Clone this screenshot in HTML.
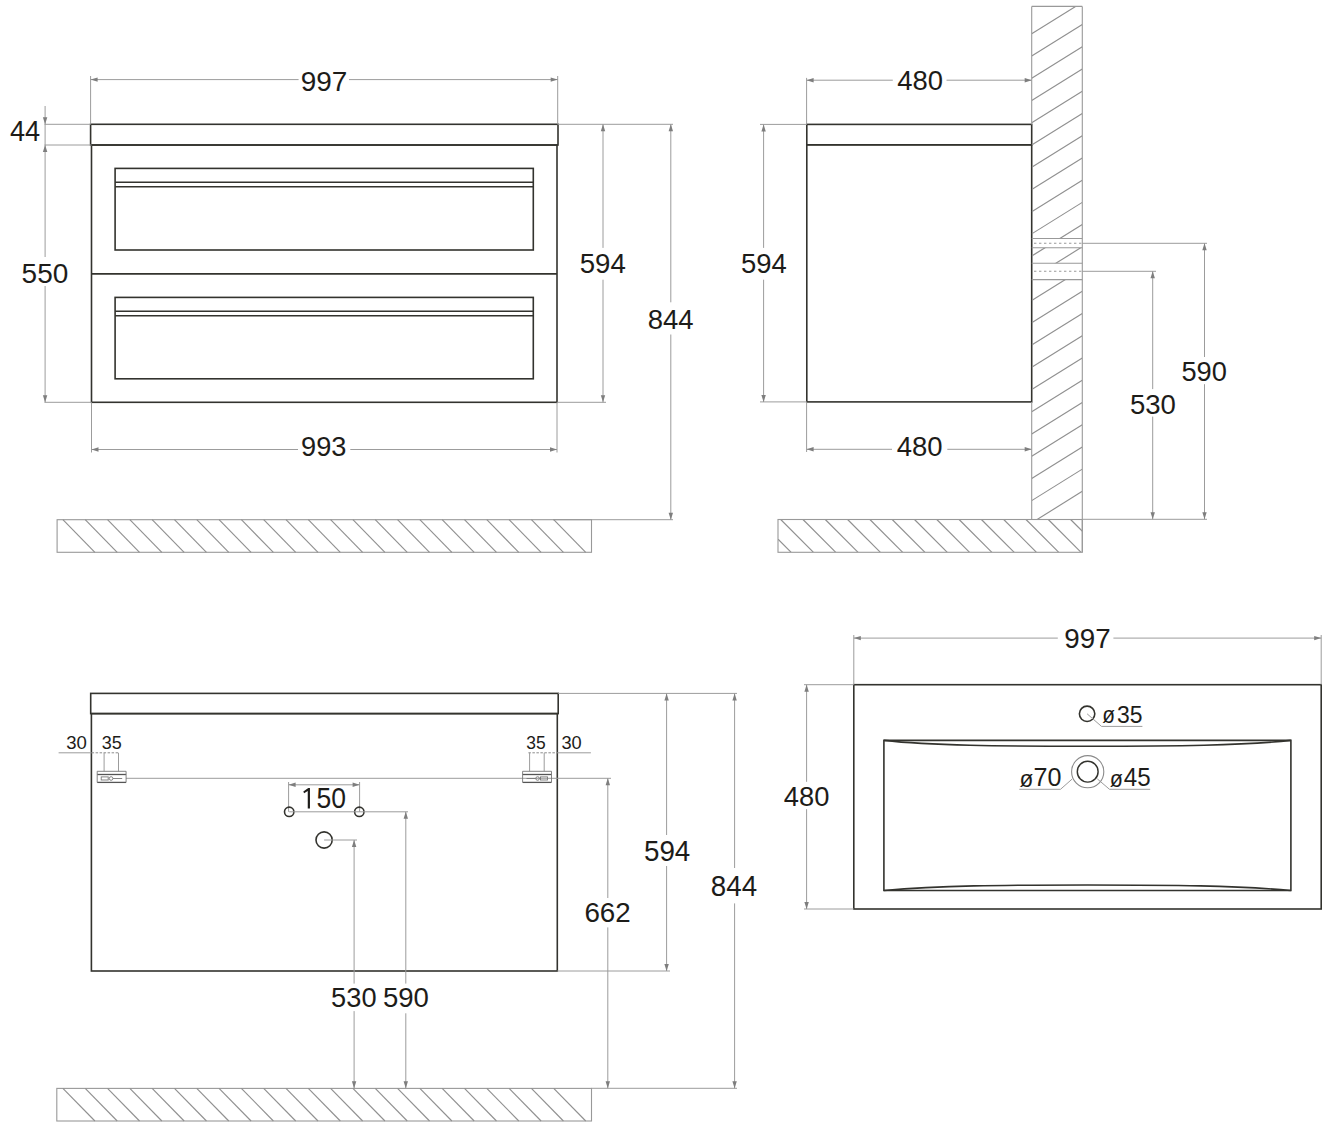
<!DOCTYPE html>
<html><head><meta charset="utf-8"><title>Cabinet drawing</title>
<style>
html,body{margin:0;padding:0;background:#fff;}
body{width:1331px;height:1130px;overflow:hidden;}
svg{display:block;}
text{font-family:"Liberation Sans",sans-serif;fill:#1d1c19;}
.o{fill:none;stroke:#33332e;stroke-width:1.6;}
.o2{fill:none;stroke:#33332e;stroke-width:1.45;}
.d{fill:none;stroke:#9c9c9c;stroke-width:1;}
.a{fill:#7e7e7e;stroke:none;}
.h{fill:none;stroke:#999999;stroke-width:1.1;}
.hd{fill:none;stroke:#909090;stroke-width:1.15;}
.b{fill:none;stroke:#777;stroke-width:0.9;}
.b2{fill:none;stroke:#555;stroke-width:1.3;}
.dt{fill:none;stroke:#8c8c8c;stroke-width:1;stroke-dasharray:2.5 1.5;}
</style></head>
<body><svg width="1331" height="1130" viewBox="0 0 1331 1130">
<rect x="0" y="0" width="1331" height="1130" fill="#fff"/>
<rect class="o" x="90.6" y="124.3" width="467.40" height="20.70"/>
<rect class="o" x="91.5" y="145.0" width="465.50" height="257.30"/>
<line class="o" x1="91.5" y1="273.9" x2="557.0" y2="273.9"/>
<rect class="o" x="115.1" y="168.4" width="418.20" height="81.60"/>
<line class="o" x1="115.1" y1="182.3" x2="533.3" y2="182.3"/>
<line class="o" x1="115.1" y1="186.8" x2="533.3" y2="186.8"/>
<rect class="o" x="115.1" y="297.4" width="418.20" height="81.40"/>
<line class="o" x1="115.1" y1="311.2" x2="533.3" y2="311.2"/>
<line class="o" x1="115.1" y1="315.8" x2="533.3" y2="315.8"/>
<line class="d" x1="90.6" y1="76" x2="90.6" y2="124.3"/>
<line class="d" x1="557.7" y1="76" x2="557.7" y2="124.3"/>
<line class="d" x1="90.6" y1="79.6" x2="298.6" y2="79.6"/>
<line class="d" x1="349" y1="79.6" x2="557.7" y2="79.6"/>
<polygon class="a" points="90.6,79.6 97.6,77.39999999999999 97.6,81.8"/>
<polygon class="a" points="557.7,79.6 550.7,77.39999999999999 550.7,81.8"/>
<text transform="matrix(27.9388 0 0 28.2483 300.690 90.524)" font-size="1">997</text>
<line class="d" x1="44.5" y1="124.3" x2="90.6" y2="124.3"/>
<line class="d" x1="44.5" y1="145.0" x2="91.5" y2="145.0"/>
<line class="d" x1="44.5" y1="402.3" x2="91.5" y2="402.3"/>
<line class="d" x1="45.1" y1="106" x2="45.1" y2="145.0"/>
<polygon class="a" points="45.1,124.3 42.9,117.3 47.300000000000004,117.3"/>
<line class="d" x1="45.1" y1="145.0" x2="45.1" y2="257"/>
<line class="d" x1="45.1" y1="286" x2="45.1" y2="402.3"/>
<polygon class="a" points="45.1,145.0 42.9,152.0 47.300000000000004,152.0"/>
<polygon class="a" points="45.1,402.3 42.9,395.3 47.300000000000004,395.3"/>
<text transform="matrix(27.1683 0 0 29.0703 9.977 141.200)" font-size="1">44</text>
<text transform="matrix(27.9988 0 0 28.5308 21.579 282.721)" font-size="1">550</text>
<line class="d" x1="557.7" y1="124.3" x2="673" y2="124.3"/>
<line class="d" x1="557" y1="402.3" x2="606" y2="402.3"/>
<line class="d" x1="553" y1="519.7" x2="673" y2="519.7"/>
<line class="d" x1="603" y1="124.3" x2="603" y2="247.9"/>
<line class="d" x1="603" y1="279.7" x2="603" y2="402.3"/>
<polygon class="a" points="603,124.3 600.8,131.3 605.2,131.3"/>
<polygon class="a" points="603,402.3 600.8,395.3 605.2,395.3"/>
<line class="d" x1="670.8" y1="124.3" x2="670.8" y2="302.3"/>
<line class="d" x1="670.8" y1="334.5" x2="670.8" y2="519.7"/>
<polygon class="a" points="670.8,124.3 668.5999999999999,131.3 673.0,131.3"/>
<polygon class="a" points="670.8,519.7 668.5999999999999,512.7 673.0,512.7"/>
<text transform="matrix(27.6402 0 0 28.2483 579.693 272.824)" font-size="1">594</text>
<text transform="matrix(27.5114 0 0 28.1070 647.704 328.526)" font-size="1">844</text>
<line class="d" x1="91.5" y1="402.3" x2="91.5" y2="452.5"/>
<line class="d" x1="557" y1="402.3" x2="557" y2="452.5"/>
<line class="d" x1="91.5" y1="449.5" x2="298" y2="449.5"/>
<line class="d" x1="350.3" y1="449.5" x2="557" y2="449.5"/>
<polygon class="a" points="91.5,449.5 98.5,447.3 98.5,451.7"/>
<polygon class="a" points="557,449.5 550,447.3 550,451.7"/>
<text transform="matrix(27.1926 0 0 28.1070 301.025 455.826)" font-size="1">993</text>
<rect class="h" x="57.1" y="519.7" width="534.40" height="32.60"/>
<line class="hd" x1="62.90" y1="519.7" x2="94.90" y2="552.3"/>
<line class="hd" x1="85.21" y1="519.7" x2="117.21" y2="552.3"/>
<line class="hd" x1="107.52" y1="519.7" x2="139.52" y2="552.3"/>
<line class="hd" x1="129.83" y1="519.7" x2="161.83" y2="552.3"/>
<line class="hd" x1="152.14" y1="519.7" x2="184.14" y2="552.3"/>
<line class="hd" x1="174.45" y1="519.7" x2="206.45" y2="552.3"/>
<line class="hd" x1="196.76" y1="519.7" x2="228.76" y2="552.3"/>
<line class="hd" x1="219.07" y1="519.7" x2="251.07" y2="552.3"/>
<line class="hd" x1="241.38" y1="519.7" x2="273.38" y2="552.3"/>
<line class="hd" x1="263.69" y1="519.7" x2="295.69" y2="552.3"/>
<line class="hd" x1="286.00" y1="519.7" x2="318.00" y2="552.3"/>
<line class="hd" x1="308.31" y1="519.7" x2="340.31" y2="552.3"/>
<line class="hd" x1="330.62" y1="519.7" x2="362.62" y2="552.3"/>
<line class="hd" x1="352.93" y1="519.7" x2="384.93" y2="552.3"/>
<line class="hd" x1="375.24" y1="519.7" x2="407.24" y2="552.3"/>
<line class="hd" x1="397.55" y1="519.7" x2="429.55" y2="552.3"/>
<line class="hd" x1="419.86" y1="519.7" x2="451.86" y2="552.3"/>
<line class="hd" x1="442.17" y1="519.7" x2="474.17" y2="552.3"/>
<line class="hd" x1="464.48" y1="519.7" x2="496.48" y2="552.3"/>
<line class="hd" x1="486.79" y1="519.7" x2="518.79" y2="552.3"/>
<line class="hd" x1="509.10" y1="519.7" x2="541.10" y2="552.3"/>
<line class="hd" x1="531.41" y1="519.7" x2="563.41" y2="552.3"/>
<line class="hd" x1="553.72" y1="519.7" x2="585.72" y2="552.3"/>
<rect class="o" x="806.8" y="124.4" width="224.90" height="20.40"/>
<rect class="o" x="806.8" y="144.8" width="224.90" height="257.10"/>
<line class="d" x1="806.6" y1="77.9" x2="806.6" y2="124.4"/>
<line class="d" x1="806.6" y1="80.2" x2="892.8" y2="80.2"/>
<line class="d" x1="946.5" y1="80.2" x2="1031.7" y2="80.2"/>
<polygon class="a" points="806.6,80.2 813.6,78.0 813.6,82.4"/>
<polygon class="a" points="1031.7,80.2 1024.7,78.0 1024.7,82.4"/>
<text transform="matrix(27.4519 0 0 27.9658 897.270 90.427)" font-size="1">480</text>
<line class="d" x1="760" y1="124.4" x2="806.8" y2="124.4"/>
<line class="d" x1="760" y1="401.9" x2="806.8" y2="401.9"/>
<line class="d" x1="763.6" y1="124.4" x2="763.6" y2="247.9"/>
<line class="d" x1="763.6" y1="279.7" x2="763.6" y2="401.9"/>
<polygon class="a" points="763.6,124.4 761.4,131.4 765.8000000000001,131.4"/>
<polygon class="a" points="763.6,401.9 761.4,394.9 765.8000000000001,394.9"/>
<text transform="matrix(27.4526 0 0 28.2483 741.001 272.824)" font-size="1">594</text>
<line class="d" x1="806.6" y1="401.9" x2="806.6" y2="452"/>
<line class="d" x1="806.6" y1="449.3" x2="892" y2="449.3"/>
<line class="d" x1="947.3" y1="449.3" x2="1031.7" y2="449.3"/>
<polygon class="a" points="806.6,449.3 813.6,447.1 813.6,451.5"/>
<polygon class="a" points="1031.7,449.3 1024.7,447.1 1024.7,451.5"/>
<text transform="matrix(27.5142 0 0 28.1070 896.769 455.726)" font-size="1">480</text>
<defs><clipPath id="cw"><rect x="1031.7" y="6.4" width="50.6" height="232.1"/><rect x="1031.7" y="247.8" width="50.6" height="15.5"/><rect x="1031.7" y="279.6" width="50.6" height="239.9"/></clipPath><clipPath id="cf"><rect x="778" y="519.5" width="304.3" height="32.8"/></clipPath></defs>
<g clip-path="url(#cw)">
<line class="hd" x1="1031.7" y1="33.80" x2="1082.3" y2="2.30"/>
<line class="hd" x1="1031.7" y1="56.03" x2="1082.3" y2="24.53"/>
<line class="hd" x1="1031.7" y1="78.26" x2="1082.3" y2="46.76"/>
<line class="hd" x1="1031.7" y1="100.49" x2="1082.3" y2="68.99"/>
<line class="hd" x1="1031.7" y1="122.72" x2="1082.3" y2="91.22"/>
<line class="hd" x1="1031.7" y1="144.95" x2="1082.3" y2="113.45"/>
<line class="hd" x1="1031.7" y1="167.18" x2="1082.3" y2="135.68"/>
<line class="hd" x1="1031.7" y1="189.41" x2="1082.3" y2="157.91"/>
<line class="hd" x1="1031.7" y1="211.64" x2="1082.3" y2="180.14"/>
<line class="hd" x1="1031.7" y1="233.87" x2="1082.3" y2="202.37"/>
<line class="hd" x1="1031.7" y1="256.10" x2="1082.3" y2="224.60"/>
<line class="hd" x1="1031.7" y1="278.33" x2="1082.3" y2="246.83"/>
<line class="hd" x1="1031.7" y1="300.56" x2="1082.3" y2="269.06"/>
<line class="hd" x1="1031.7" y1="322.79" x2="1082.3" y2="291.29"/>
<line class="hd" x1="1031.7" y1="345.02" x2="1082.3" y2="313.52"/>
<line class="hd" x1="1031.7" y1="367.25" x2="1082.3" y2="335.75"/>
<line class="hd" x1="1031.7" y1="389.48" x2="1082.3" y2="357.98"/>
<line class="hd" x1="1031.7" y1="411.71" x2="1082.3" y2="380.21"/>
<line class="hd" x1="1031.7" y1="433.94" x2="1082.3" y2="402.44"/>
<line class="hd" x1="1031.7" y1="456.17" x2="1082.3" y2="424.67"/>
<line class="hd" x1="1031.7" y1="478.40" x2="1082.3" y2="446.90"/>
<line class="hd" x1="1031.7" y1="500.63" x2="1082.3" y2="469.13"/>
<line class="hd" x1="1031.7" y1="522.86" x2="1082.3" y2="491.36"/>
</g>
<line class="h" x1="1082.3" y1="6.4" x2="1082.3" y2="552.3"/>
<line class="h" x1="1031.7" y1="6.4" x2="1082.3" y2="6.4"/>
<line class="h" x1="1031.7" y1="401.9" x2="1031.7" y2="519.5"/>
<line class="h" x1="1031.7" y1="6.4" x2="1031.7" y2="124.4"/>
<line class="h" x1="1031.7" y1="238.5" x2="1082.3" y2="238.5"/>
<line class="h" x1="1031.7" y1="247.8" x2="1082.3" y2="247.8"/>
<line class="h" x1="1031.7" y1="263.3" x2="1082.3" y2="263.3"/>
<line class="h" x1="1031.7" y1="279.6" x2="1082.3" y2="279.6"/>
<line class="h" x1="1034" y1="243.3" x2="1082" y2="243.3" stroke-dasharray="2.4 2.6"/>
<line class="h" x1="1034" y1="271.3" x2="1082" y2="271.3" stroke-dasharray="2.4 2.6"/>
<g clip-path="url(#cf)">
<line class="hd" x1="736.10" y1="519.5" x2="768.90" y2="552.3"/>
<line class="hd" x1="758.40" y1="519.5" x2="791.20" y2="552.3"/>
<line class="hd" x1="780.70" y1="519.5" x2="813.50" y2="552.3"/>
<line class="hd" x1="803.00" y1="519.5" x2="835.80" y2="552.3"/>
<line class="hd" x1="825.30" y1="519.5" x2="858.10" y2="552.3"/>
<line class="hd" x1="847.60" y1="519.5" x2="880.40" y2="552.3"/>
<line class="hd" x1="869.90" y1="519.5" x2="902.70" y2="552.3"/>
<line class="hd" x1="892.20" y1="519.5" x2="925.00" y2="552.3"/>
<line class="hd" x1="914.50" y1="519.5" x2="947.30" y2="552.3"/>
<line class="hd" x1="936.80" y1="519.5" x2="969.60" y2="552.3"/>
<line class="hd" x1="959.10" y1="519.5" x2="991.90" y2="552.3"/>
<line class="hd" x1="981.40" y1="519.5" x2="1014.20" y2="552.3"/>
<line class="hd" x1="1003.70" y1="519.5" x2="1036.50" y2="552.3"/>
<line class="hd" x1="1026.00" y1="519.5" x2="1058.80" y2="552.3"/>
<line class="hd" x1="1048.30" y1="519.5" x2="1081.10" y2="552.3"/>
<line class="hd" x1="1070.60" y1="519.5" x2="1103.40" y2="552.3"/>
<line class="hd" x1="1092.90" y1="519.5" x2="1125.70" y2="552.3"/>
<line class="hd" x1="1115.20" y1="519.5" x2="1148.00" y2="552.3"/>
</g>
<rect class="h" x="778" y="519.5" width="304.30" height="32.80"/>
<line class="d" x1="1082.3" y1="243.3" x2="1207" y2="243.3"/>
<line class="d" x1="1082.3" y1="271.3" x2="1156" y2="271.3"/>
<line class="d" x1="1082.3" y1="519.3" x2="1207" y2="519.3"/>
<line class="d" x1="1204.5" y1="243.3" x2="1204.5" y2="357"/>
<line class="d" x1="1204.5" y1="384.2" x2="1204.5" y2="519.3"/>
<polygon class="a" points="1204.5,243.3 1202.3,250.3 1206.7,250.3"/>
<polygon class="a" points="1204.5,519.3 1202.3,512.3 1206.7,512.3"/>
<line class="d" x1="1152.7" y1="271.3" x2="1152.7" y2="389.1"/>
<line class="d" x1="1152.7" y1="416.6" x2="1152.7" y2="519.3"/>
<polygon class="a" points="1152.7,271.3 1150.5,278.3 1154.9,278.3"/>
<polygon class="a" points="1152.7,519.3 1150.5,512.3 1154.9,512.3"/>
<text transform="matrix(27.2437 0 0 27.9658 1181.409 381.027)" font-size="1">590</text>
<text transform="matrix(27.5583 0 0 28.1070 1129.897 413.626)" font-size="1">530</text>
<rect class="o" x="90.7" y="693.4" width="467.50" height="20.20"/>
<rect class="o" x="91.4" y="713.6" width="465.90" height="257.40"/>
<line class="d" x1="558.2" y1="693.4" x2="737" y2="693.4"/>
<line class="d" x1="557.3" y1="971.0" x2="670" y2="971.0"/>
<line class="d" x1="591.5" y1="1088.3" x2="737" y2="1088.3"/>
<line class="d" x1="666.6" y1="693.4" x2="666.6" y2="835"/>
<line class="d" x1="666.6" y1="866" x2="666.6" y2="971.0"/>
<polygon class="a" points="666.6,693.4 664.4,700.4 668.8000000000001,700.4"/>
<polygon class="a" points="666.6,971.0 664.4,964.0 668.8000000000001,964.0"/>
<line class="d" x1="734.6" y1="693.4" x2="734.6" y2="868"/>
<line class="d" x1="734.6" y1="903.4" x2="734.6" y2="1088.3"/>
<polygon class="a" points="734.6,693.4 732.4,700.4 736.8000000000001,700.4"/>
<polygon class="a" points="734.6,1088.3 732.4,1081.3 736.8000000000001,1081.3"/>
<text transform="matrix(27.7653 0 0 29.0957 643.988 861.316)" font-size="1">594</text>
<text transform="matrix(27.7621 0 0 28.6720 710.794 895.620)" font-size="1">844</text>
<line class="d" x1="126" y1="778.3" x2="611" y2="778.3"/>
<line class="d" x1="607.8" y1="778.3" x2="607.8" y2="898"/>
<line class="d" x1="607.8" y1="927.4" x2="607.8" y2="1088.3"/>
<polygon class="a" points="607.8,778.3 605.5999999999999,785.3 610.0,785.3"/>
<polygon class="a" points="607.8,1088.3 605.5999999999999,1081.3 610.0,1081.3"/>
<text transform="matrix(27.8171 0 0 27.9658 584.387 921.927)" font-size="1">662</text>
<line class="d" x1="288.6" y1="782" x2="288.6" y2="811.8"/>
<line class="d" x1="359.6" y1="782" x2="359.6" y2="811.8"/>
<line class="d" x1="288.6" y1="784.8" x2="359.6" y2="784.8"/>
<polygon class="a" points="288.6,784.8 295.6,782.5999999999999 295.6,787.0"/>
<polygon class="a" points="359.6,784.8 352.6,782.5999999999999 352.6,787.0"/>
<path fill="#1d1c19" d="M309.95,788.1 L309.95,808.4 L307.75,808.4 L307.75,791.0 L304.1,793.3 L303.3,791.5 L308.3,788.1 Z"/>
<text transform="matrix(26.5195 0 0 28.6720 316.438 808.120)" font-size="1">50</text>
<circle class="o" cx="289.2" cy="811.8" r="4.7"/>
<circle class="o" cx="359.3" cy="811.8" r="4.7"/>
<circle class="o" cx="324.1" cy="840" r="8.1"/>
<line class="d" x1="289.2" y1="811.8" x2="408" y2="811.8"/>
<line class="d" x1="324.1" y1="840" x2="357" y2="840"/>
<line class="d" x1="405.8" y1="811.8" x2="405.8" y2="983.6"/>
<line class="d" x1="405.8" y1="1013.3" x2="405.8" y2="1088.3"/>
<polygon class="a" points="405.8,811.8 403.6,818.8 408.0,818.8"/>
<polygon class="a" points="405.8,1088.3 403.6,1081.3 408.0,1081.3"/>
<line class="d" x1="354.1" y1="840" x2="354.1" y2="983.6"/>
<line class="d" x1="354.1" y1="1011.1" x2="354.1" y2="1088.3"/>
<polygon class="a" points="354.1,840 351.90000000000003,847 356.3,847"/>
<polygon class="a" points="354.1,1088.3 351.90000000000003,1081.3 356.3,1081.3"/>
<text transform="matrix(27.2437 0 0 28.1070 331.109 1007.226)" font-size="1">530</text>
<text transform="matrix(27.5583 0 0 28.1070 382.897 1007.226)" font-size="1">590</text>
<line class="d" x1="58.6" y1="752.8" x2="91.6" y2="752.8"/>
<line class="dt" x1="91.6" y1="752.8" x2="119.6" y2="752.8"/>
<line class="d" x1="104.1" y1="752.8" x2="104.1" y2="771.3"/>
<line class="d" x1="118.5" y1="752.8" x2="118.5" y2="771.3"/>
<text transform="matrix(18.5962 0 0 18.2201 66.292 748.822)" font-size="1">30</text>
<text transform="matrix(18.0193 0 0 18.2201 101.814 748.822)" font-size="1">35</text>
<line class="dt" x1="528.4" y1="752.8" x2="557.1" y2="752.8"/>
<line class="d" x1="557.1" y1="752.8" x2="590.9" y2="752.8"/>
<line class="d" x1="529.6" y1="752.8" x2="529.6" y2="771.3"/>
<line class="d" x1="544.2" y1="752.8" x2="544.2" y2="771.3"/>
<text transform="matrix(17.4380 0 0 18.2201 526.236 748.822)" font-size="1">35</text>
<text transform="matrix(18.2581 0 0 18.2201 561.405 748.822)" font-size="1">30</text>
<line class="b" x1="97.2" y1="771.3" x2="126.1" y2="771.3"/>
<line class="b2" x1="97.2" y1="774.5" x2="126.1" y2="774.5"/>
<line class="b2" x1="97.2" y1="782.4" x2="126.1" y2="782.4"/>
<line class="b" x1="97.2" y1="771.3" x2="97.2" y2="782.4"/>
<line class="b" x1="126.1" y1="771.3" x2="126.1" y2="782.4"/>
<rect class="b" x="101.2" y="776.9" width="7" height="3.1"/>
<circle class="b" cx="111.10000000000001" cy="778.5" r="1.8"/>
<line class="b" x1="112.9" y1="778.5" x2="122.2" y2="778.5"/>
<line class="b" x1="522.6" y1="771.3" x2="551.5" y2="771.3"/>
<line class="b2" x1="522.6" y1="774.5" x2="551.5" y2="774.5"/>
<line class="b2" x1="522.6" y1="782.4" x2="551.5" y2="782.4"/>
<line class="b" x1="522.6" y1="771.3" x2="522.6" y2="782.4"/>
<line class="b" x1="551.5" y1="771.3" x2="551.5" y2="782.4"/>
<rect class="b" x="540.5" y="776.9" width="7" height="3.1"/>
<circle class="b" cx="537.6" cy="778.5" r="1.8"/>
<line class="b" x1="526.5" y1="778.5" x2="535.8" y2="778.5"/>
<rect class="h" x="56.8" y="1088.4" width="534.70" height="32.60"/>
<line class="hd" x1="62.90" y1="1088.4" x2="94.90" y2="1121.0"/>
<line class="hd" x1="85.21" y1="1088.4" x2="117.21" y2="1121.0"/>
<line class="hd" x1="107.52" y1="1088.4" x2="139.52" y2="1121.0"/>
<line class="hd" x1="129.83" y1="1088.4" x2="161.83" y2="1121.0"/>
<line class="hd" x1="152.14" y1="1088.4" x2="184.14" y2="1121.0"/>
<line class="hd" x1="174.45" y1="1088.4" x2="206.45" y2="1121.0"/>
<line class="hd" x1="196.76" y1="1088.4" x2="228.76" y2="1121.0"/>
<line class="hd" x1="219.07" y1="1088.4" x2="251.07" y2="1121.0"/>
<line class="hd" x1="241.38" y1="1088.4" x2="273.38" y2="1121.0"/>
<line class="hd" x1="263.69" y1="1088.4" x2="295.69" y2="1121.0"/>
<line class="hd" x1="286.00" y1="1088.4" x2="318.00" y2="1121.0"/>
<line class="hd" x1="308.31" y1="1088.4" x2="340.31" y2="1121.0"/>
<line class="hd" x1="330.62" y1="1088.4" x2="362.62" y2="1121.0"/>
<line class="hd" x1="352.93" y1="1088.4" x2="384.93" y2="1121.0"/>
<line class="hd" x1="375.24" y1="1088.4" x2="407.24" y2="1121.0"/>
<line class="hd" x1="397.55" y1="1088.4" x2="429.55" y2="1121.0"/>
<line class="hd" x1="419.86" y1="1088.4" x2="451.86" y2="1121.0"/>
<line class="hd" x1="442.17" y1="1088.4" x2="474.17" y2="1121.0"/>
<line class="hd" x1="464.48" y1="1088.4" x2="496.48" y2="1121.0"/>
<line class="hd" x1="486.79" y1="1088.4" x2="518.79" y2="1121.0"/>
<line class="hd" x1="509.10" y1="1088.4" x2="541.10" y2="1121.0"/>
<line class="hd" x1="531.41" y1="1088.4" x2="563.41" y2="1121.0"/>
<line class="hd" x1="553.72" y1="1088.4" x2="585.72" y2="1121.0"/>
<rect class="o" x="853.8" y="684.7" width="467.40" height="224.30"/>
<path class="o" d="M883.9,890.5 L883.9,740.4 L1290.9,740.4 L1290.9,890.5 Z"/>
<path class="o" d="M883.9,740.4 C930,745.6 1000,746.2 1087.4,746.2 C1174,746.2 1244,745.6 1290.9,740.4"/>
<path class="o" d="M883.9,890.5 C940,885.6 1000,885 1087.4,885 C1174,885 1234,885.6 1290.9,890.5"/>
<line class="d" x1="853.8" y1="635" x2="853.8" y2="684.7"/>
<line class="d" x1="1321.2" y1="635" x2="1321.2" y2="684.7"/>
<line class="d" x1="853.8" y1="638.1" x2="1057.8" y2="638.1"/>
<line class="d" x1="1113.4" y1="638.1" x2="1321.2" y2="638.1"/>
<polygon class="a" points="853.8,638.1 860.8,635.9 860.8,640.3000000000001"/>
<polygon class="a" points="1321.2,638.1 1314.2,635.9 1314.2,640.3000000000001"/>
<text transform="matrix(27.7479 0 0 28.4601 1064.299 647.772)" font-size="1">997</text>
<line class="d" x1="804" y1="684.7" x2="853.8" y2="684.7"/>
<line class="d" x1="804" y1="909.0" x2="853.8" y2="909.0"/>
<line class="d" x1="806.6" y1="684.7" x2="806.6" y2="781.8"/>
<line class="d" x1="806.6" y1="809.2" x2="806.6" y2="909.0"/>
<polygon class="a" points="806.6,684.7 804.4,691.7 808.8000000000001,691.7"/>
<polygon class="a" points="806.6,909.0 804.4,902.0 808.8000000000001,902.0"/>
<text transform="matrix(27.3274 0 0 28.5308 783.873 805.721)" font-size="1">480</text>
<circle class="o" cx="1087.1" cy="713.8" r="7.7"/>
<polyline class="d" points="1087.1,713.8 1101.5,726.4 1142.4,726.4"/>
<text transform="matrix(20.8331 0 0 23.9584 1102.152 722.955)" font-size="1">ø</text>
<text transform="matrix(22.9601 0 0 24.2935 1116.926 722.563)" font-size="1">35</text>
<circle fill="none" stroke="#8a8a8a" stroke-width="1.1" cx="1087.7" cy="771.7" r="16.1"/>
<circle class="o2" cx="1087.7" cy="771.7" r="10.4"/>
<polyline class="d" points="1072.3,778.9 1060.5,789.3 1019.3,789.3"/>
<polyline class="d" points="1097.3,778.9 1109.5,789.3 1150.2,789.3"/>
<text transform="matrix(22.5986 0 0 24.6683 1019.514 786.542)" font-size="1">ø</text>
<text transform="matrix(25.1474 0 0 24.8585 1033.511 786.357)" font-size="1">70</text>
<text transform="matrix(21.5393 0 0 24.6683 1109.837 786.542)" font-size="1">ø</text>
<text transform="matrix(24.1559 0 0 24.9372 1123.746 786.356)" font-size="1">45</text>
</svg></body></html>
